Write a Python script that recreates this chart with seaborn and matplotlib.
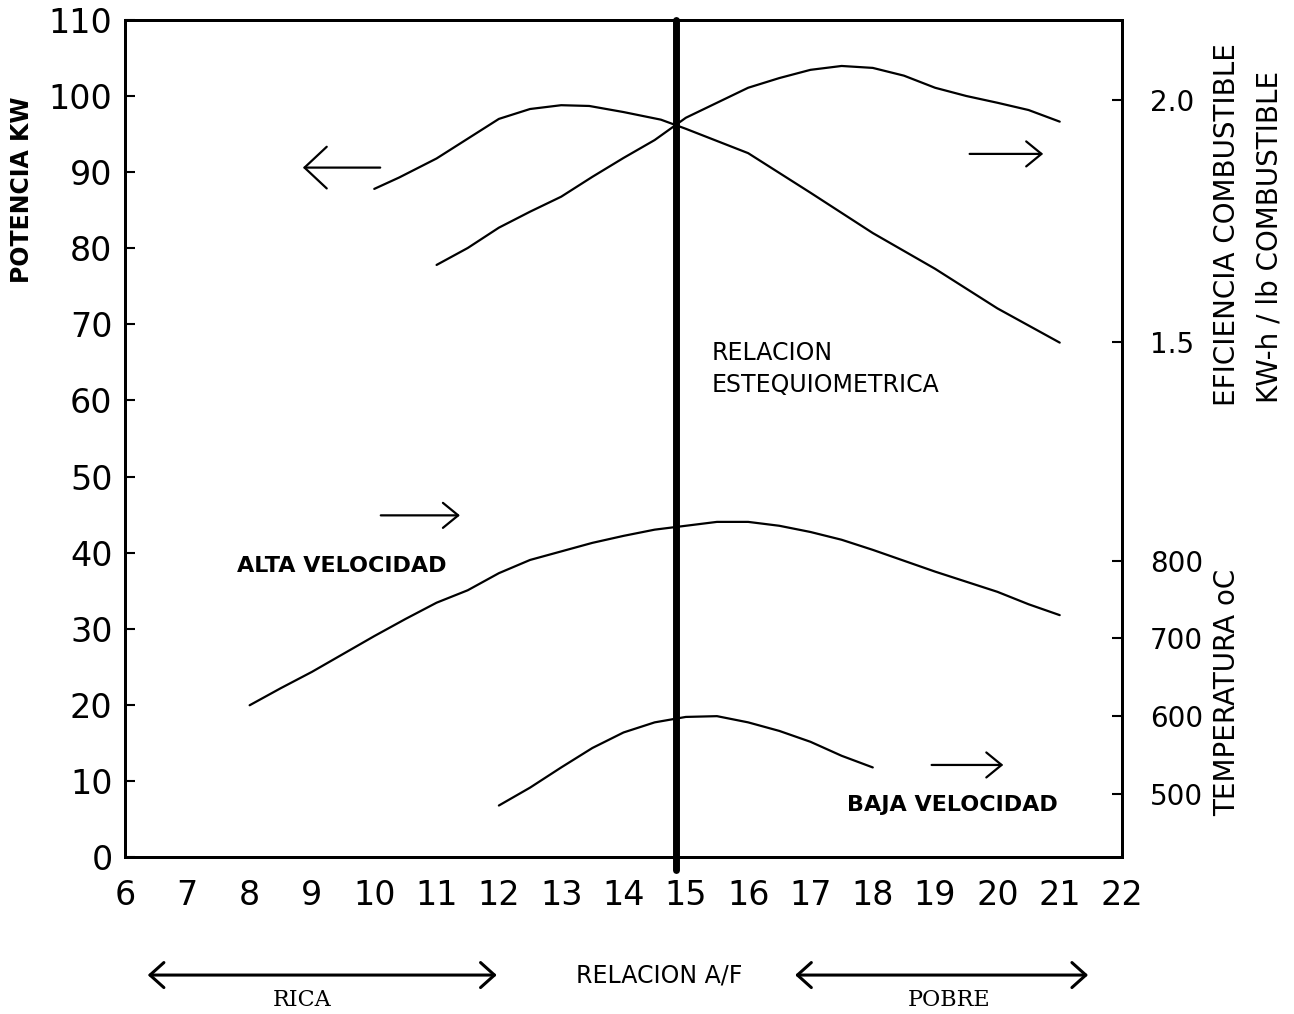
import matplotlib
matplotlib.use("Agg")
import matplotlib.pyplot as plt
import seaborn as sns
from matplotlib import font_manager

# A/F ratio vs power, fuel efficiency and exhaust temperature
# power curve (left axis, KW)
power_x = [10.0, 10.4, 11.0, 11.5, 12.0, 12.5, 13.0, 13.45, 14.0, 14.6, 15.0, 16.0, 17.0, 18.0, 19.0, 20.0, 21.0]
power_kw = [87.8, 89.3, 91.8, 94.4, 97.0, 98.3, 98.8, 98.7, 97.9, 96.9, 95.7, 92.5, 87.3, 82.0, 77.3, 72.1, 67.6]

# fuel efficiency (right axis, KW-h / lb)
eff_x = [11.0, 11.5, 12.0, 12.5, 13.0, 13.5, 14.0, 14.5, 15.0, 15.5, 16.0, 16.5, 17.0, 17.5, 18.0, 18.5, 19.0, 19.5, 20.0, 20.5, 21.0]
eff_val = [1.659, 1.694, 1.736, 1.769, 1.800, 1.841, 1.880, 1.917, 1.963, 1.994, 2.025, 2.045, 2.062, 2.070, 2.066, 2.050,
           2.025, 2.008, 1.994, 1.979, 1.955]

# exhaust temperature, high speed (right axis, oC)
alta_x = [8.0, 8.5, 9.0, 9.5, 10.0, 10.5, 11.0, 11.5, 12.0, 12.5, 13.0, 13.5, 14.0, 14.5, 15.0, 15.5, 16.0, 16.5, 17.0,
          17.5, 18.0, 18.5, 19.0, 19.5, 20.0, 20.5, 21.0]
alta_temp = [614, 636, 657, 680, 703, 725, 746, 762, 784, 801, 812, 823, 832, 840, 845, 850, 850, 845, 837,
             827, 814, 800, 786, 773, 760, 744, 730]

# exhaust temperature, low speed
baja_x = [12.0, 12.5, 13.0, 13.5, 14.0, 14.5, 15.0, 15.5, 16.0, 16.5, 17.0, 17.5, 18.0]
baja_temp = [485, 508, 534, 559, 579, 592, 599, 600, 592, 581, 567, 549, 534]

stoich_af = 14.85

x_ticks = list(range(6, 23))
kw_ticks = list(range(0, 111, 10))
eff_ticks = [1.5, 2.0]
eff_labels = ["1.5", "2.0"]
temp_ticks = [500, 600, 700, 800]

sns.set_theme(style="white")
names = {f.name for f in font_manager.fontManager.ttflist}
narrow = "Liberation Sans Narrow" if "Liberation Sans Narrow" in names else "DejaVu Sans"
plt.rcParams["font.family"] = ["DejaVu Sans"]
plt.rcParams["text.color"] = "black"

fig = plt.figure(figsize=(12.94, 10.14), dpi=100)
ax = fig.add_axes([0.0966, 0.1548, 0.7705, 0.8255])
ax_eff = ax.twinx()
ax_temp = ax.twinx()

sns.lineplot(x=power_x, y=power_kw, ax=ax, color="black", lw=1.6)
sns.lineplot(x=eff_x, y=eff_val, ax=ax_eff, color="black", lw=1.6)
sns.lineplot(x=alta_x, y=alta_temp, ax=ax_temp, color="black", lw=1.6)
sns.lineplot(x=baja_x, y=baja_temp, ax=ax_temp, color="black", lw=1.6)

ax.set_xlim(6, 22)
ax.set_ylim(0, 110)
ax_eff.set_ylim(0.436, 2.165)
ax_temp.set_ylim(418.7, 1495.9)

ax.axvline(stoich_af, ymin=-0.015, ymax=1, color="black", lw=5, clip_on=False)

for a in (ax, ax_eff, ax_temp):
    for s in a.spines.values():
        s.set_color("black")
        s.set_linewidth(2)
    a.set_xlabel("")
    a.set_ylabel("")

ax.set_xticks(x_ticks)
ax.set_yticks(kw_ticks)
ax.tick_params(axis="both", direction="in", length=7, width=1.5, colors="black")
ax.tick_params(axis="y", pad=9)
ax.tick_params(axis="x", pad=16)
for lab in ax.get_xticklabels() + ax.get_yticklabels():
    lab.set_fontfamily(narrow)
    lab.set_fontsize(24)

ax_eff.set_yticks(eff_ticks)
ax_eff.set_yticklabels(eff_labels)
ax_temp.set_yticks(temp_ticks)
for a in (ax_eff, ax_temp):
    a.tick_params(axis="y", direction="in", length=7, width=1.5, pad=20, labelsize=20, colors="black")

# arrows pointing to the relevant axis
arr = dict(color="black", lw=1.6, mutation_scale=20)
ax.annotate("", xy=(8.81, 90.6), xytext=(10.14, 90.6),
            arrowprops=dict(arrowstyle="->,head_length=0.8,head_width=0.75", **arr))
ax.annotate("", xy=(20.78, 92.4), xytext=(19.51, 92.4),
            arrowprops=dict(arrowstyle="->,head_length=0.55,head_width=0.45", **arr))
ax.annotate("", xy=(11.42, 44.9), xytext=(10.06, 44.9),
            arrowprops=dict(arrowstyle="->,head_length=0.55,head_width=0.45", **arr))
ax.annotate("", xy=(20.14, 12.1), xytext=(18.9, 12.1),
            arrowprops=dict(arrowstyle="->,head_length=0.55,head_width=0.45", **arr))

ax.text(15.41, 66.2, "RELACION", fontsize=17, va="center", ha="left")
ax.text(15.41, 62.0, "ESTEQUIOMETRICA", fontsize=17, va="center", ha="left")
ax.text(7.80, 38.2, "ALTA VELOCIDAD", fontsize=16, fontweight="bold", va="center", ha="left")
ax.text(17.59, 6.8, "BAJA VELOCIDAD", fontsize=16, fontweight="bold", va="center", ha="left")

# rich / lean band under the x axis
bot = ("data", "axes fraction")
dbl = dict(arrowstyle="<->,head_length=0.5,head_width=0.45", color="black", lw=2.2, mutation_scale=20)
ax.annotate("", xy=(6.32, -0.141), xytext=(12.01, -0.141), xycoords=bot, textcoords=bot,
            arrowprops=dbl, annotation_clip=False)
ax.annotate("", xy=(16.71, -0.141), xytext=(21.5, -0.141), xycoords=bot, textcoords=bot,
            arrowprops=dbl, annotation_clip=False)
ax.text(14.58, -0.141, "RELACION A/F", transform=ax.get_xaxis_transform(), fontsize=17,
        ha="center", va="center", fontfamily=narrow)
ax.text(8.84, -0.171, "RICA", transform=ax.get_xaxis_transform(), fontsize=16,
        ha="center", va="center", fontfamily="DejaVu Serif")
ax.text(19.23, -0.171, "POBRE", transform=ax.get_xaxis_transform(), fontsize=16,
        ha="center", va="center", fontfamily="DejaVu Serif")

# axis titles
fig.text(22 / 1294, 1 - 190 / 1014, "POTENCIA KW", rotation=90, fontsize=17, fontweight="bold",
         ha="center", va="center")
fig.text(1227 / 1294, 1 - 225 / 1014, "EFICIENCIA COMBUSTIBLE", rotation=90, fontsize=20,
         ha="center", va="center")
fig.text(1270 / 1294, 1 - 237 / 1014, "KW-h / lb COMBUSTIBLE", rotation=90, fontsize=20,
         ha="center", va="center")
fig.text(1227 / 1294, 1 - 692 / 1014, "TEMPERATURA oC", rotation=90, fontsize=20,
         ha="center", va="center")

fig.savefig("out.png", dpi=100)
